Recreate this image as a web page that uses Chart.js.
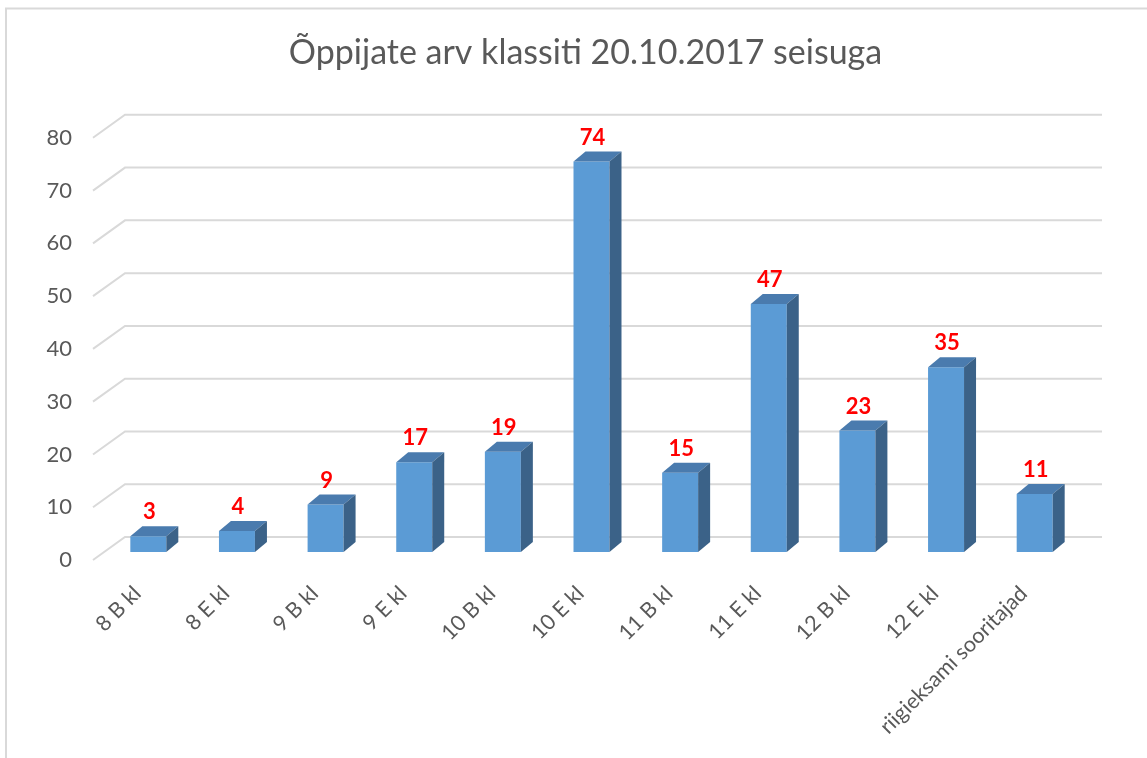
<!DOCTYPE html>
<html>
<head>
<meta charset="utf-8">
<script src="https://cdn.jsdelivr.net/npm/chart.js@4.4.0/dist/chart.umd.min.js"></script>
<style>
  body { margin: 0; background: #fff; }
  #wrap { width: 1147px; height: 758px; position: relative; }
</style>
</head>
<body>
<div id="wrap"><canvas id="myChart"></canvas></div>
<script>
var classes = ['8 B kl', '8 E kl', '9 B kl', '9 E kl', '10 B kl', '10 E kl', '11 B kl', '11 E kl', '12 B kl', '12 E kl', 'riigieksami sooritajad'];
var counts = [3, 4, 9, 17, 19, 74, 15, 47, 23, 35, 11];
var yMax = 80;
var yStep = 10;

var FONT = 'Lato, "Liberation Sans", sans-serif';
var shift = {x: 11, y: -8};     // bars sit a bit behind the front edge of the floor
var depth = {x: 12, y: -10};    // bar depth
var wall = {x: 32, y: -23};     // back wall offset for the grid

// frame round the chart
var framePlugin = {
  id: 'frame',
  beforeDraw: function(chart){
    var c = chart.ctx;
    c.save();
    c.strokeStyle = '#d9d9d9';
    c.lineWidth = 2;
    c.strokeRect(6, 8.5, 1300, 900);
    c.restore();
  }
};

// gridlines on the back wall with the little diagonal on the left
var wallGrid = {
  id: 'wallGrid',
  beforeDatasetsDraw: function(chart){
    var c = chart.ctx, y = chart.scales.y, area = chart.chartArea;
    c.save();
    c.strokeStyle = '#d9d9d9';
    c.lineWidth = 2;
    y.ticks.forEach(function(t){
      var py = y.getPixelForValue(t.value);
      c.beginPath();
      c.moveTo(area.left, py);
      c.lineTo(area.left + wall.x, py + wall.y);
      c.lineTo(area.right + wall.x + 2, py + wall.y);
      c.stroke();
    });
    c.restore();
  }
};

// move front faces back, then add top + side faces and the red labels
var bars3d = {
  id: 'bars3d',
  beforeDatasetsDraw: function(chart){
    chart.ctx.save();
    chart.ctx.translate(shift.x, shift.y);
  },
  afterDatasetsDraw: function(chart){
    var c = chart.ctx;
    var meta = chart.getDatasetMeta(0);
    meta.data.forEach(function(bar, i){
      var l = bar.x - bar.width / 2, r = bar.x + bar.width / 2;
      var top = bar.y, bottom = bar.base;
      // top face
      c.fillStyle = '#4a7bae';
      c.beginPath();
      c.moveTo(l, top);
      c.lineTo(l + depth.x, top + depth.y);
      c.lineTo(r + depth.x, top + depth.y);
      c.lineTo(r, top);
      c.closePath();
      c.fill();
      // side face
      c.fillStyle = '#3b6288';
      c.beginPath();
      c.moveTo(r, top);
      c.lineTo(r + depth.x, top + depth.y);
      c.lineTo(r + depth.x, bottom + depth.y);
      c.lineTo(r, bottom);
      c.closePath();
      c.fill();
      // value
      c.fillStyle = '#ff0000';
      c.font = 'bold 22px ' + FONT;
      c.textAlign = 'center';
      c.textBaseline = 'middle';
      c.fillText(counts[i], bar.x + 1, top - 24);
    });
    c.restore();
  }
};

var ctx = document.getElementById('myChart').getContext('2d');
var chart = new Chart(ctx, {
  type: 'bar',
  data: {
    labels: classes,
    datasets: [{
      data: counts,
      backgroundColor: '#5b9bd5',
      borderWidth: 0,
      categoryPercentage: 1,
      barPercentage: 0.406
    }]
  },
  options: {
    responsive: true,
    maintainAspectRatio: false,
    animation: false,
    layout: { padding: { left: 24, right: 0, top: 0, bottom: 0 } },
    plugins: {
      legend: { display: false },
      tooltip: { enabled: false },
      title: {
        display: true,
        text: 'Õppijate arv klassiti 20.10.2017 seisuga',
        color: '#595959',
        font: { family: FONT, size: 34, weight: 'normal', lineHeight: 1.2 },
        padding: { top: 33, bottom: 64 }
      }
    },
    scales: {
      x: {
        grid: { display: false },
        border: { display: false },
        ticks: {
          color: '#595959',
          font: { family: FONT, size: 21.5 },
          minRotation: 45,
          maxRotation: 45,
          autoSkip: false,
          padding: 13
        },
        afterFit: function(s){ s.height = 198; }
      },
      y: {
        min: 0,
        max: yMax,
        grid: { display: false, drawTicks: false },
        border: { display: false },
        ticks: {
          stepSize: yStep,
          color: '#595959',
          font: { family: FONT, size: 22 },
          padding: 21
        },
        afterFit: function(s){ s.width = 69; }
      },
      // empty right-hand axis, only keeps room on the right
      yRight: {
        position: 'right',
        display: true,
        grid: { display: false },
        border: { display: false },
        ticks: { display: false },
        afterFit: function(s){ s.width = 79; }
      }
    }
  },
  plugins: [framePlugin, wallGrid, bars3d]
});
</script>
</body>
</html>
